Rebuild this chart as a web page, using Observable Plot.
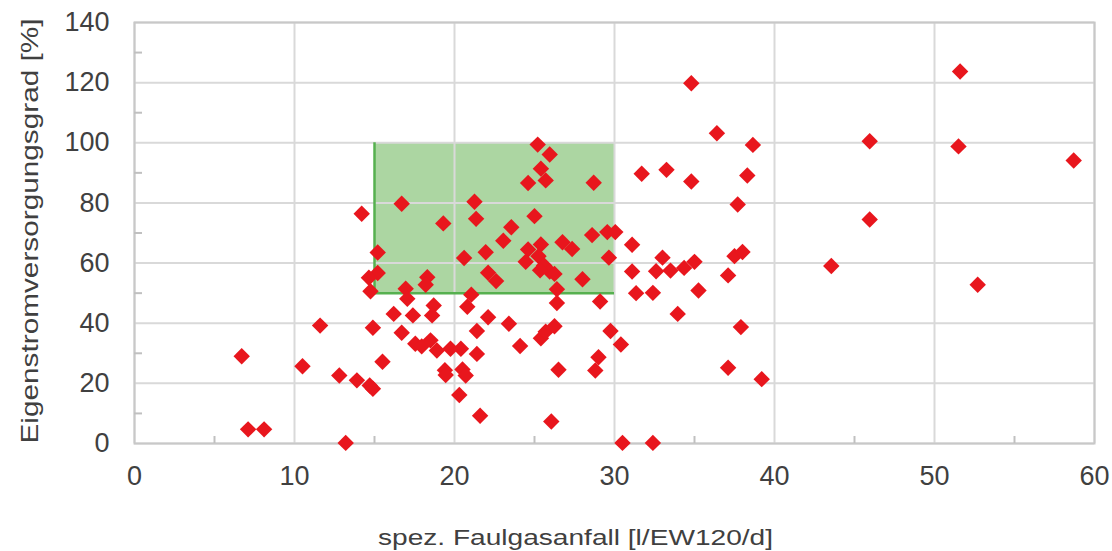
<!DOCTYPE html>
<html>
<head>
<meta charset="utf-8">
<script src="https://cdn.jsdelivr.net/npm/d3@7"></script>
<script src="https://cdn.jsdelivr.net/npm/@observablehq/plot@0.6"></script>
<style>
  html, body { margin: 0; padding: 0; background: #fff; }
  #chart svg { display: block; }
</style>
</head>
<body>
<div id="chart"></div>
<script>
// Faulgasanfall (x) and Eigenstromversorgungsgrad (y) per plant
const gasYield = [
  6.7, 7.1, 8.1, 10.5, 11.6, 12.8, 13.2, 13.9, 14.7, 14.9,
  14.2, 15.5, 14.9, 16.7, 16.2, 17.4, 15.2, 15.2, 14.65, 14.75,
  16.7, 19.3, 16.95, 17.05, 18.3, 18.2, 18.7, 18.6, 17.55, 17.95,
  18.5, 18.9, 19.75, 20.4, 19.4, 19.45, 20.5, 20.7, 20.3, 21.6,
  20.8, 21.05, 21.4, 22.1, 21.4, 21.25, 21.35, 20.6, 21.95, 22.1,
  22.6, 23.55, 23.05, 23.4, 24.1, 24.6, 25.4, 24.45, 25.25, 25.6,
  25.95, 26.25, 25.0, 25.2, 25.95, 25.4, 25.7, 24.6, 28.7, 26.75,
  27.35, 28.6, 29.55, 30.05, 29.65, 31.1, 28.0, 26.4, 26.4, 29.1,
  25.4, 25.7, 26.25, 29.75, 30.4, 29.0, 28.8, 26.5, 26.05, 30.5,
  32.4, 31.7, 33.25, 34.8, 38.3, 37.7, 34.8, 36.4, 38.65, 31.1,
  33.0, 32.6, 33.5, 34.35, 35.0, 37.5, 38.0, 37.1, 31.35, 32.4,
  35.25, 33.95, 37.9, 37.1, 39.2, 43.55, 45.95, 45.95, 51.6, 51.5,
  52.7, 58.7, 25.35
];
const selfSupply = [
  29.0, 4.7, 4.7, 25.7, 39.2, 22.6, 0.2, 21.0, 19.3, 18.2,
  76.4, 27.2, 38.5, 36.8, 43.1, 42.6, 63.5, 56.7, 55.1, 50.6,
  79.7, 73.2, 51.5, 48.1, 55.3, 52.8, 45.9, 42.6, 33.2, 32.3,
  34.3, 30.9, 31.5, 31.5, 24.4, 22.8, 24.6, 22.6, 16.1, 9.2,
  45.5, 49.5, 37.4, 42.0, 29.8, 80.4, 74.7, 61.7, 63.6, 56.8,
  54.0, 71.9, 67.4, 39.8, 32.4, 64.5, 66.2, 60.4, 62.3, 59.2,
  57.2, 56.4, 75.6, 99.4, 96.1, 91.4, 87.5, 86.6, 86.7, 66.9,
  64.7, 69.3, 70.3, 70.3, 61.8, 66.1, 54.6, 51.3, 46.7, 47.2,
  35.0, 37.2, 39.0, 37.4, 32.9, 28.7, 24.3, 24.5, 7.3, 0.2,
  0.2, 89.7, 91.0, 87.1, 89.1, 79.5, 119.8, 103.2, 99.3, 57.2,
  61.8, 57.3, 57.5, 58.4, 60.4, 62.3, 63.7, 55.9, 50.0, 50.1,
  50.9, 43.1, 38.7, 25.2, 21.4, 59.0, 100.5, 74.5, 123.7, 98.8,
  52.8, 94.1, 57.6
];

// Target zone
const zoneX = [15, 30];
const zoneY = [50, 100];

// Axis ticks
const xTicks = [0, 10, 20, 30, 40, 50, 60];
const xMinor = [5, 15, 25, 35, 45, 55];
const yTicks = [0, 20, 40, 60, 80, 100, 120, 140];
const yMinor = [10, 30, 50, 70, 90, 110, 130];

const xLabel = "spez. Faulgasanfall [l/EW120/d]";
const yLabel = "Eigenstromversorgungsgrad [%]";

const points = gasYield.map((x, i) => ({x, y: selfSupply[i]}));
const zone = [{x1: zoneX[0], x2: zoneX[1], y1: zoneY[0], y2: zoneY[1]}];

const font = "'Liberation Sans', Arial, sans-serif";
const textColor = "#404040";
const gridColor = "#d9d9d9";
const tickColor = "#c0c0c0";

const chart = Plot.plot({
  width: 1112,
  height: 551,
  marginLeft: 134,
  marginRight: 18,
  marginTop: 22,
  marginBottom: 108,
  style: {fontFamily: font, background: "#fff", overflow: "visible"},
  x: {domain: [0, 60], ticks: xTicks},
  y: {domain: [0, 140], ticks: yTicks},
  marks: [
    Plot.rect(zone, {x1: "x1", x2: "x2", y1: "y1", y2: "y2", fill: "#acd6a2"}),
    Plot.gridX(xTicks, {stroke: gridColor, strokeOpacity: 1, strokeWidth: 2}),
    Plot.gridY(yTicks, {stroke: gridColor, strokeOpacity: 1, strokeWidth: 2}),
    Plot.ruleX(zone, {x: "x1", y1: "y1", y2: "y2", stroke: "#56b04f", strokeWidth: 2.5}),
    Plot.ruleY(zone, {y: "y1", x1: "x1", x2: "x2", stroke: "#56b04f", strokeWidth: 2.5}),
    Plot.frame({stroke: "#c8c8c8", strokeWidth: 2}),
    // minor ticks pointing into the plot area
    Plot.axisX(xMinor, {tickSize: -7, tickFormat: () => "", stroke: tickColor, strokeWidth: 2, label: null}),
    Plot.axisY(yMinor, {tickSize: -8, tickFormat: () => "", stroke: tickColor, strokeWidth: 2, label: null}),
    Plot.axisX({ticks: xTicks, tickSize: 0, tickPadding: 22, fontSize: 27, color: textColor, label: null}),
    Plot.axisY({ticks: yTicks, tickSize: 0, tickPadding: 25, fontSize: 27, color: textColor, label: null}),
    Plot.dot(points, {x: "x", y: "y", symbol: "diamond2", r: 7.4, fill: "#e8161d", stroke: "none"}),
    Plot.text([xLabel], {text: d => d, frameAnchor: "bottom", textAnchor: "middle", lineAnchor: "middle", dx: -39, dy: 94, fontSize: 22, fill: textColor}),
    Plot.text([yLabel], {text: d => d, frameAnchor: "left", textAnchor: "middle", lineAnchor: "middle", rotate: -90, dx: -104, dy: -2, fontSize: 24, fill: textColor})
  ]
});

document.getElementById("chart").appendChild(chart);

// stretch the axis titles to match the reference widths
for (const t of chart.querySelectorAll("text")) {
  if (t.textContent === xLabel) {
    t.setAttribute("textLength", 395);
    t.setAttribute("lengthAdjust", "spacingAndGlyphs");
  } else if (t.textContent === yLabel) {
    t.setAttribute("textLength", 425);
    t.setAttribute("lengthAdjust", "spacingAndGlyphs");
  }
}
</script>
</body>
</html>
